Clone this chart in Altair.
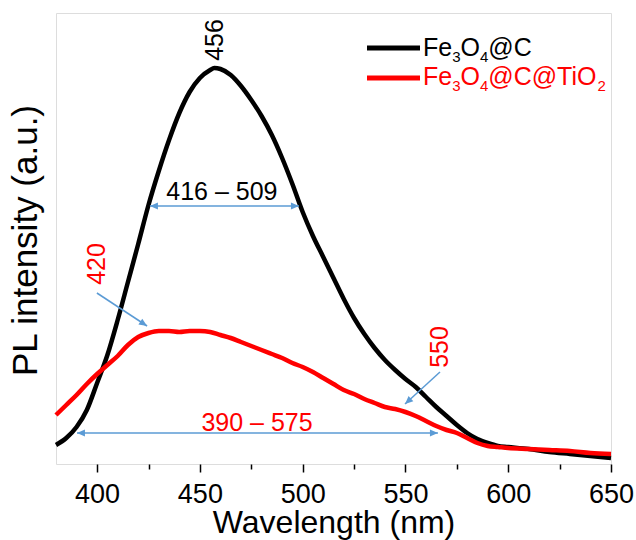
import math
import altair as alt
import pandas as pd

FONT = "Liberation Sans"

# ---------------- data ----------------
wl_black = [380, 385, 390, 395, 400, 405, 410, 415, 420, 425, 430, 435, 440, 445, 450, 455, 457,
            460, 465, 470, 475, 480, 485, 490, 495, 500, 505, 510, 515, 520, 525, 530, 535, 540,
            545, 550, 555, 560, 565, 570, 575, 580, 585, 590, 595, 600, 610, 620, 630, 640, 650]
pl_black = [19, 26, 37, 54, 81, 109, 144, 182, 220, 259, 293, 324, 351, 372, 386, 394, 396,
            395, 389, 378, 364, 348, 329, 306, 280, 252, 228, 207, 186, 165, 146, 130, 116, 104,
            94, 85, 77, 67, 57, 48, 39, 31, 25, 21, 18, 17, 15, 12, 10, 8, 6]

wl_red = [380, 385, 390, 395, 400, 405, 410, 415, 420, 425, 430, 435, 440, 445, 450, 455,
          460, 465, 470, 475, 480, 485, 490, 495, 500, 505, 510, 515, 520, 525, 530, 535, 540,
          545, 550, 555, 560, 565, 570, 575, 580, 585, 590, 595, 600, 610, 620, 630, 640, 650]
pl_red = [49, 59, 69, 80, 90, 99, 108, 119, 127, 131, 133, 133, 132, 133, 133, 132,
          129, 126, 122, 118, 114, 110, 106, 101, 97, 92, 86, 80, 74, 70, 65, 61, 57,
          55, 52, 48, 43, 38, 34, 31, 26, 21, 18, 17, 16, 15, 14, 13, 11, 10]

x_ticks = [400, 425, 450, 475, 500, 525, 550, 575, 600, 625, 650]

# annotations (data coordinates)
ann_text = ["456", "416 \u2013 509", "420", "550", "390 \u2013 575"]
ann_x = [457.3, 460.7, 399.9, 566.8, 477.8]
ann_y = [424, 272, 200, 117, 41]
ann_angle = [270, 0, 270, 270, 0]
ann_color = ["black", "black", "red", "red", "red"]

# arrows: start -> tip, and whether a head also sits at the start
arr_x1 = [425.7, 390.2, 399.9, 566.8]
arr_y1 = [258, 31, 171, 92]
arr_x2 = [498.2, 565.8, 424.3, 549.8]
arr_y2 = [258, 31, 138, 60]
arr_double = [True, True, False, False]

# ---------------- layout ----------------
W, H = 555, 451
X_DOM = [380, 650]
Y_DOM = [0, 451]
PXW = W / (X_DOM[1] - X_DOM[0])
PXH = H / (Y_DOM[1] - Y_DOM[0])

xs = alt.Scale(domain=X_DOM, nice=False, zero=False)
ys = alt.Scale(domain=Y_DOM, nice=False, zero=False)

df_b = pd.DataFrame({"wl": wl_black, "pl": pl_black})
df_r = pd.DataFrame({"wl": wl_red, "pl": pl_red})

x_axis = alt.Axis(
    values=x_ticks,
    labelExpr="datum.value % 50 == 0 ? datum.label : ''",
    tickSize={"condition": {"test": "datum.value % 50 == 0", "value": 8}, "value": 5},
    tickColor="black", tickWidth=1.5, domain=False, grid=False,
    labelFont=FONT, labelFontSize=27, labelColor="black",
    labelFlush=False, labelOverlap=False, labelBaseline="alphabetic", labelPadding=30,
    title="Wavelength (nm)", titleFont=FONT, titleFontSize=32, titleFontWeight="normal",
    titleColor="black", titleBaseline="alphabetic", titleY=68,
)
y_axis = alt.Axis(
    ticks=False, labels=False, domain=False, grid=False,
    title="PL intensity (a.u.)", titleFont=FONT, titleFontSize=35, titleFontWeight="normal",
    titleColor="black", titleAngle=270, titleBaseline="middle", titleAlign="center",
    titleX=-31, titleY=227,
)

black = alt.Chart(df_b).mark_line(color="black", strokeWidth=4.5, interpolate="monotone").encode(
    x=alt.X("wl:Q", scale=xs, axis=x_axis),
    y=alt.Y("pl:Q", scale=ys, axis=y_axis),
)
red = alt.Chart(df_r).mark_line(color="#ff0000", strokeWidth=4.5, interpolate="monotone").encode(
    x=alt.X("wl:Q", scale=xs),
    y=alt.Y("pl:Q", scale=ys),
)

# arrows
df_arr = pd.DataFrame({"x1": arr_x1, "y1": arr_y1, "x2": arr_x2, "y2": arr_y2})
arrow_lines = alt.Chart(df_arr).mark_rule(color="#5b9bd5", strokeWidth=1.5).encode(
    x=alt.X("x1:Q", scale=xs), y=alt.Y("y1:Q", scale=ys),
    x2="x2:Q", y2="y2:Q",
)


def head_angle(xf, yf, xt, yt):
    dx = (xt - xf) * PXW
    dy = -(yt - yf) * PXH  # screen y grows downward
    return math.degrees(math.atan2(dx, -dy)) % 360


hx, hy, ha = [], [], []
for a, b, c, d, dbl in zip(arr_x1, arr_y1, arr_x2, arr_y2, arr_double):
    hx.append(c); hy.append(d); ha.append(head_angle(a, b, c, d))
    if dbl:
        hx.append(a); hy.append(b); ha.append(head_angle(c, d, a, b))
df_heads = pd.DataFrame({"x": hx, "y": hy, "ang": ha})
heads = alt.Chart(df_heads).mark_point(
    shape="M0,0L-0.7,1.6L0.7,1.6Z", filled=True, color="#5b9bd5", opacity=1, size=100
).encode(
    x=alt.X("x:Q", scale=xs), y=alt.Y("y:Q", scale=ys),
    angle=alt.Angle("ang:Q", scale=None),
)

df_ann = pd.DataFrame({"t": ann_text, "x": ann_x, "y": ann_y, "a": ann_angle, "c": ann_color})
ann = alt.Chart(df_ann).mark_text(font=FONT, fontSize=25, align="center", baseline="middle").encode(
    x=alt.X("x:Q", scale=xs), y=alt.Y("y:Q", scale=ys),
    text="t:N", angle=alt.Angle("a:Q", scale=None), color=alt.Color("c:N", scale=None),
)

# legend (manual, with subscripts)
AW = {"F": 0.611, "e": 0.556, "O": 0.778, "@": 1.015, "C": 0.722, "T": 0.611, "i": 0.222,
      "2": 0.556, "3": 0.556, "4": 0.556}
MAIN_FS, SUB_FS = 25, 15
dummy = pd.DataFrame({"a": [0]})


def legend_entry(parts, color, line_y, x0, base_y):
    layers = [alt.Chart(dummy).mark_rule(color=color, strokeWidth=5).encode(
        x=alt.value(311), x2=alt.value(364), y=alt.value(line_y))]
    x = x0
    for txt, sub in parts:
        fs = SUB_FS if sub else MAIN_FS
        layers.append(alt.Chart(dummy).mark_text(
            text=txt, font=FONT, fontSize=fs, color=color, align="left", baseline="alphabetic"
        ).encode(x=alt.value(x), y=alt.value(base_y + (6 if sub else 0))))
        x += sum(AW[ch] for ch in txt) * fs
    return layers


leg1 = legend_entry([("Fe", False), ("3", True), ("O", False), ("4", True), ("@C", False)],
                    "black", 35, 367, 43)
leg2 = legend_entry([("Fe", False), ("3", True), ("O", False), ("4", True), ("@C@TiO", False),
                     ("2", True)], "#ff0000", 65, 367, 72)

chart = alt.layer(black, red, arrow_lines, heads, ann, *leg1, *leg2).properties(
    width=W, height=H,
    autosize=alt.AutoSizeParams(type="none"),
    padding={"left": 56, "top": 13, "right": 25, "bottom": 76},
).configure_view(stroke="black", strokeWidth=1.6).configure(background="white")

chart.save("out.html", embed_options={"renderer": "svg", "actions": False})
